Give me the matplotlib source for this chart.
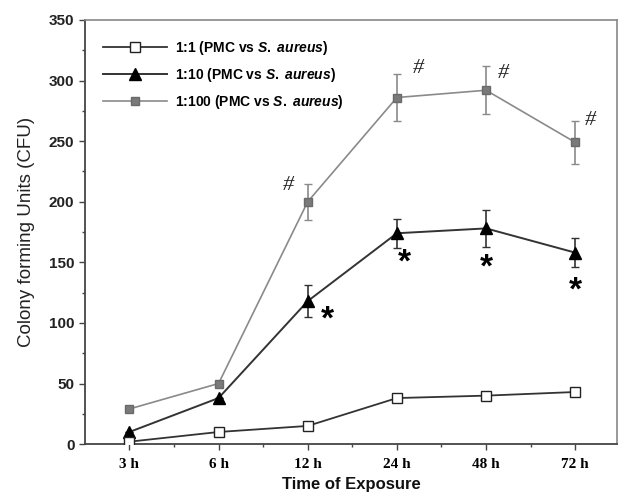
import numpy as np
import matplotlib
matplotlib.use("Agg")
from matplotlib import pyplot as plt
from matplotlib.lines import Line2D
from matplotlib.ticker import MultipleLocator

plt.rcParams['font.family'] = ['Liberation Sans', 'DejaVu Sans']
plt.rcParams['mathtext.fontset'] = 'custom'
plt.rcParams['mathtext.it'] = 'Liberation Sans:italic:bold'
plt.rcParams['mathtext.rm'] = 'Liberation Sans:bold'

time_labels = ['3 h', '6 h', '12 h', '24 h', '48 h', '72 h']

cfu_1_1 = [2, 10, 15, 38, 40, 43]
cfu_1_10 = [10, 38, 118, 174, 178, 158]
err_1_10 = [0, 0, 13, 12, 15, 12]
cfu_1_100 = [29, 50, 200, 286, 292, 249]
err_1_100 = [0, 0, 15, 19, 20, 18]

# significance marks: (time index, x offset, y value)
hash_marks = [(2, -0.22, 213), (3, 0.24, 310), (4, 0.19, 306), (5, 0.17, 267)]
star_marks = [(2, 0.22, 102), (3, 0.09, 149), (4, 0.0, 145), (5, 0.0, 126)]

x = np.arange(len(time_labels))

fig = plt.figure(figsize=(6.19, 4.99), dpi=100)
ax = fig.add_axes([0.137, 0.110, 0.860, 0.850])

s100 = dict(color='#8a8a8a', marker='s', markersize=6, markerfacecolor='#7a7a7a',
            markeredgecolor='#6a6a6a', lw=1.2)
s10 = dict(color='#333333', marker='^', markersize=8, markerfacecolor='black',
           markeredgecolor='black', lw=1.4)
s1 = dict(color='#333333', marker='s', markersize=7, markerfacecolor='white',
          markeredgecolor='#222222', lw=1.3)

ax.errorbar(x, cfu_1_100, yerr=err_1_100, capsize=3, elinewidth=1.2, zorder=3, **s100)
ax.errorbar(x, cfu_1_10, yerr=err_1_10, capsize=3, elinewidth=1.2, ecolor='#333333',
            zorder=4, **s10)
ax.plot(x, cfu_1_1, zorder=5, **s1)

for i, dx, y in hash_marks:
    ax.text(x[i] + dx, y, '#', fontsize=16, family='Liberation Serif', style='italic',
            ha='center', va='center', color='#222222')
for i, dx, y in star_marks:
    ax.text(x[i] + dx, y, '*', fontsize=24, fontweight='bold',
            ha='center', va='center', color='black')

ax.set_xlim(-0.5, 5.47)
ax.set_ylim(0, 350)
ax.yaxis.set_major_locator(MultipleLocator(50))
ax.yaxis.set_minor_locator(MultipleLocator(25))
ax.set_xticks(x)
ax.set_xticks(x[:-1] + 0.5, minor=True)
ax.set_xticklabels(time_labels, family='Liberation Serif', fontweight='bold', fontsize=11)
for lab in ax.get_yticklabels():
    lab.set_fontweight('bold')
    lab.set_fontsize(11)
    lab.set_color('#222222')
ax.tick_params(axis='both', which='major', direction='out', length=4, width=1, color='#444444')
ax.tick_params(axis='both', which='minor', direction='out', length=2, width=1, color='#444444')
ax.tick_params(axis='x', pad=6)

for side in ['left', 'bottom']:
    ax.spines[side].set_color('#444444')
    ax.spines[side].set_linewidth(1.3)
for side in ['top', 'right']:
    ax.spines[side].set_color('#888888')
    ax.spines[side].set_linewidth(1.2)

ax.set_ylabel('Colony forming Units (CFU)', fontsize=13.5, color='#222222', labelpad=10)
ax.set_xlabel('Time of Exposure', fontsize=12, fontweight='bold', color='#111111', labelpad=4)

handles = [Line2D([], [], **s1), Line2D([], [], **s10), Line2D([], [], **s100)]
labels = ['1:1 (PMC vs $S.$ $aureus$)', '1:10 (PMC vs $S.$ $aureus$)',
          '1:100 (PMC vs $S.$ $aureus$)']
leg = ax.legend(handles, labels, loc='upper left', bbox_to_anchor=(0.01, 0.985),
                frameon=False, fontsize=10, handlelength=4.6, labelspacing=0.65,
                handletextpad=0.6)
for t in leg.get_texts():
    t.set_fontweight('bold')

fig.savefig('out.png', dpi=100)
